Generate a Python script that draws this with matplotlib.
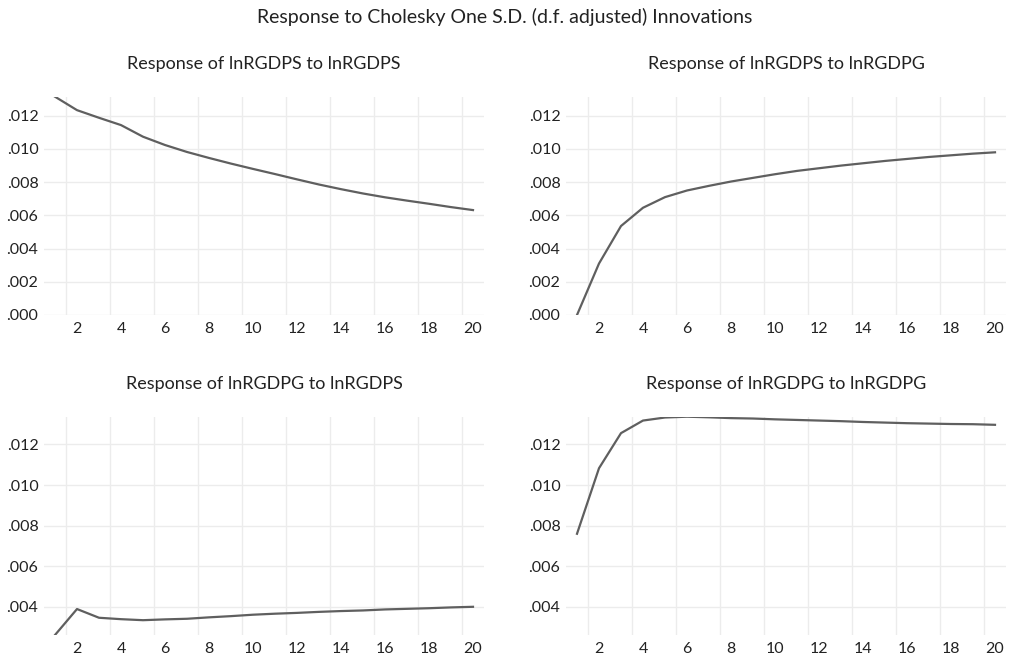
import numpy as np
import matplotlib
matplotlib.use("Agg")
import matplotlib.pyplot as plt
from matplotlib.ticker import FuncFormatter

plt.rcParams['font.family'] = ['Lato', 'DejaVu Sans']

periods = list(range(1, 21))

# impulse responses
s_to_s = [0.01315, 0.01234, 0.01188, 0.01144, 0.01074, 0.01024, 0.00982, 0.00946,
          0.00912, 0.0088, 0.00849, 0.00817, 0.00786, 0.00758, 0.00732, 0.00709,
          0.00689, 0.0067, 0.0065, 0.00632]
s_to_g = [0.0000, 0.0031, 0.00536, 0.00646, 0.0071, 0.0075, 0.00778, 0.00804,
          0.00826, 0.00848, 0.00868, 0.00884, 0.0090, 0.00914, 0.00928, 0.0094,
          0.00952, 0.00962, 0.00972, 0.0098]
g_to_s = [0.00261, 0.00389, 0.00346, 0.00339, 0.00334, 0.00338, 0.00341, 0.00348,
          0.00354, 0.00361, 0.00366, 0.0037, 0.00375, 0.00379, 0.00382, 0.00387,
          0.0039, 0.00393, 0.00397, 0.0040]
g_to_g = [0.0076, 0.01083, 0.01256, 0.01318, 0.01333, 0.01337, 0.01334, 0.0133,
          0.01328, 0.01324, 0.01321, 0.01318, 0.01315, 0.01311, 0.01308, 0.01305,
          0.01303, 0.01301, 0.0130, 0.01297]

titles = ["Response of lnRGDPS to lnRGDPS", "Response of lnRGDPS to lnRGDPG",
          "Response of lnRGDPG to lnRGDPS", "Response of lnRGDPG to lnRGDPG"]
series = [s_to_s, s_to_g, g_to_s, g_to_g]

fig = plt.figure(figsize=(10.09, 6.61), dpi=100)
fig.suptitle("Response to Cholesky One S.D. (d.f. adjusted) Innovations",
             y=0.988, fontsize=14, color="#222222")

W, H = 1009, 661
boxes = [(44, 96.7), (566, 96.7), (44, 416.7), (566, 416.7)]

fmt = FuncFormatter(lambda v, pos: f"{v:.3f}".lstrip("0"))

for i, (title, ys) in enumerate(zip(titles, series)):
    x0, y0 = boxes[i]
    ax = fig.add_axes([x0 / W, 1 - (y0 + 218.3) / H, 440 / W, 218.3 / H])
    ax.plot(periods, ys, color="#5f5f5f", lw=1.6)

    # rows share their y range, the data min/max
    row = series[:2] if i < 2 else series[2:]
    lo = min(min(r) for r in row)
    hi = max(max(r) for r in row)
    ax.set_xlim(0.5, 20.5)

    ax.set_xticks(range(2, 21, 2))
    ax.set_xticks(np.arange(1.5, 20, 2), minor=True)
    ax.set_yticks(np.arange(0, 0.0131, 0.002))
    ax.set_ylim(lo, hi)
    ax.yaxis.set_major_formatter(fmt)

    ax.grid(which="minor", axis="x", color="#ececec", lw=1)
    ax.grid(which="major", axis="y", color="#ececec", lw=1)
    ax.tick_params(which="both", length=0, labelsize=11.5, colors="#222222")
    ax.tick_params(axis="y", pad=4)
    ax.tick_params(axis="x", pad=5)
    for sp in ax.spines.values():
        sp.set_visible(False)
    ax.set_axisbelow(True)
    ax.set_title(title, fontsize=13, color="#222222", pad=20)

fig.savefig("out.png", dpi=100)
